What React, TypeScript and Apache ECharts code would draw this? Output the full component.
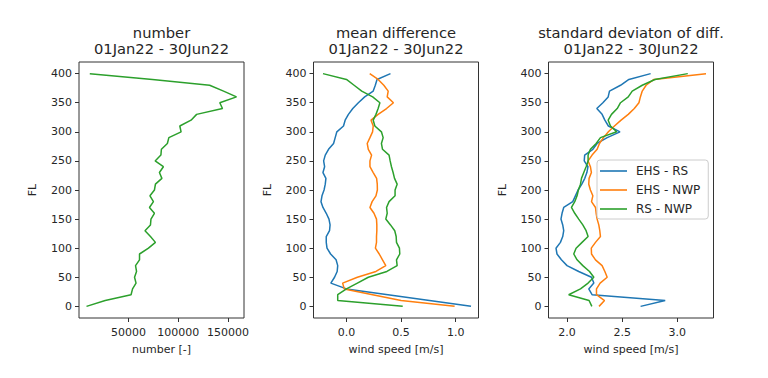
import React, { useEffect, useRef } from "react";
import * as echarts from "echarts";

const flLevels = [0, 10, 20, 30, 40, 50, 60, 70, 80, 90, 100, 110, 120, 130, 140, 150, 160, 170, 180, 190, 200, 210, 220, 230, 240, 250, 260, 270, 280, 290, 300, 310, 320, 330, 340, 350, 360, 370, 380, 390, 400];

const numberCount = [7700, 26500, 52500, 54000, 57500, 56000, 58000, 57000, 61000, 61000, 70000, 77000, 72000, 66500, 72000, 72500, 76000, 71000, 75000, 71500, 76000, 77000, 83500, 81000, 85000, 76700, 82500, 83000, 89000, 90500, 102800, 101500, 112800, 118400, 144400, 141700, 158500, 145500, 131500, 74000, 11000];

const meanEhsRs = [1.14, 0.76, 0.38, 0.0, -0.143, -0.109, -0.085, -0.08, -0.095, -0.145, -0.178, -0.185, -0.185, -0.155, -0.15, -0.16, -0.185, -0.215, -0.233, -0.224, -0.205, -0.194, -0.188, -0.215, -0.2, -0.209, -0.194, -0.164, -0.118, -0.103, -0.088, -0.027, -0.012, 0.018, 0.058, 0.109, 0.167, 0.245, 0.264, 0.28, 0.403];
const meanEhsNwp = [0.99, 0.5, 0.24, -0.02, -0.035, 0.1, 0.27, 0.36, 0.33, 0.3, 0.265, 0.275, 0.275, 0.278, 0.278, 0.275, 0.252, 0.215, 0.235, 0.27, 0.283, 0.282, 0.276, 0.245, 0.215, 0.215, 0.23, 0.2, 0.19, 0.215, 0.239, 0.245, 0.225, 0.29, 0.367, 0.43, 0.373, 0.382, 0.342, 0.29, 0.213];
const meanRsNwp = [0.515, -0.08, -0.08, 0.0, 0.1, 0.2, 0.37, 0.464, 0.458, 0.488, 0.485, 0.458, 0.455, 0.442, 0.403, 0.36, 0.373, 0.367, 0.39, 0.445, 0.445, 0.464, 0.44, 0.427, 0.412, 0.4, 0.39, 0.33, 0.32, 0.336, 0.32, 0.26, 0.245, 0.27, 0.29, 0.306, 0.24, 0.14, 0.07, 0.0, -0.215];

const stdEhsRs = [2.667, 2.89, 2.227, 2.197, 2.243, 2.222, 2.106, 2.0, 1.949, 1.909, 1.9, 1.94, 1.961, 1.97, 1.961, 1.945, 1.955, 1.97, 2.052, 2.076, 2.1, 2.134, 2.161, 2.18, 2.19, 2.156, 2.16, 2.234, 2.273, 2.364, 2.48, 2.375, 2.343, 2.318, 2.27, 2.325, 2.373, 2.385, 2.485, 2.561, 2.758];
const stdEhsNwp = [2.29, 2.34, 2.267, 2.267, 2.3, 2.364, 2.343, 2.318, 2.258, 2.222, 2.22, 2.258, 2.303, 2.297, 2.288, 2.273, 2.264, 2.258, 2.222, 2.234, 2.212, 2.197, 2.2, 2.221, 2.212, 2.191, 2.227, 2.273, 2.294, 2.33, 2.375, 2.43, 2.49, 2.555, 2.61, 2.652, 2.665, 2.682, 2.717, 2.788, 3.26];
const stdRsNwp = [2.225, 2.2, 2.015, 2.122, 2.191, 2.243, 2.204, 2.143, 2.091, 2.061, 2.082, 2.136, 2.191, 2.173, 2.143, 2.106, 2.07, 2.04, 2.07, 2.091, 2.103, 2.122, 2.131, 2.152, 2.173, 2.191, 2.191, 2.212, 2.264, 2.303, 2.45, 2.394, 2.373, 2.403, 2.455, 2.485, 2.555, 2.591, 2.682, 2.797, 3.095];

const seriesNames = ["EHS - RS", "EHS - NWP", "RS - NWP"];
const colors = ["#1f77b4", "#ff7f0e", "#2ca02c"];
const titles = ["number", "mean difference", "standard deviaton of diff."];
const period = "01Jan22 - 30Jun22";
const xNames = ["number [-]", "wind speed [m/s]", "wind speed [m/s]"];
const yTicks = [0, 50, 100, 150, 200, 250, 300, 350, 400];
const xTicks = [
  [50000, 100000, 150000],
  [0.0, 0.5, 1.0],
  [2.0, 2.5, 3.0],
];

const FONT = "DejaVu Sans";
const TXT = "#262626";

function extent(arrs: number[][]) {
  let mn = Infinity, mx = -Infinity;
  arrs.forEach((a) => a.forEach((v) => { if (v < mn) mn = v; if (v > mx) mx = v; }));
  const pad = (mx - mn) * 0.05;
  return [mn - pad, mx + pad];
}

export default function App() {
  const ref = useRef<HTMLDivElement>(null);
  useEffect(() => {
    if (!ref.current) return;
    const chart = echarts.init(ref.current, null, { renderer: "svg" });
    const panels = [[numberCount], [meanEhsRs, meanEhsNwp, meanRsNwp], [stdEhsRs, stdEhsNwp, stdRsNwp]];
    const lefts = [79, 313.5, 548.5];
    const W = 165;
    const grids = lefts.map((l) => ({
      left: l, top: 62, width: W, height: 256, show: true,
      borderColor: "#333", borderWidth: 1, backgroundColor: "transparent", containLabel: false,
    }));
    const xAxes = panels.map((p, i) => {
      const [mn, mx] = extent(p);
      return {
        type: "value", gridIndex: i, min: mn, max: mx,
        name: xNames[i], nameLocation: "middle", nameGap: 26,
        nameTextStyle: { fontFamily: FONT, fontSize: 11, color: TXT },
        axisLine: { show: false, onZero: false },
        splitLine: { show: false },
        axisTick: { show: true, length: 4, lineStyle: { color: "#333" }, customValues: xTicks[i] },
        axisLabel: {
          show: true, margin: 9, fontFamily: FONT, fontSize: 11, color: TXT,
          customValues: xTicks[i],
          formatter: (v: number) => (i === 0 ? String(Math.round(v)) : v.toFixed(1)),
        },
      };
    });
    const yAxes = panels.map((_, i) => ({
      type: "value", gridIndex: i, min: -20, max: 420,
      name: "FL", nameLocation: "middle", nameGap: 41, nameRotate: 90,
      nameTextStyle: { fontFamily: FONT, fontSize: 11, color: TXT },
      axisLine: { show: false, onZero: false },
      splitLine: { show: false },
      axisTick: { show: true, length: 4, lineStyle: { color: "#333" }, customValues: yTicks },
      axisLabel: { show: true, margin: 7, fontFamily: FONT, fontSize: 11, color: TXT, customValues: yTicks },
    }));
    const series: any[] = [];
    series.push({
      type: "line", name: "number", xAxisIndex: 0, yAxisIndex: 0, symbol: "none",
      data: flLevels.map((f, k) => [numberCount[k], f]),
      lineStyle: { color: colors[2], width: 1.5 }, itemStyle: { color: colors[2] },
    });
    [1, 2].forEach((pi) => {
      panels[pi].forEach((arr, si) => {
        series.push({
          type: "line", name: seriesNames[si], xAxisIndex: pi, yAxisIndex: pi, symbol: "none",
          data: flLevels.map((f, k) => [arr[k], f]),
          lineStyle: { color: colors[si], width: 1.5 }, itemStyle: { color: colors[si] },
        });
      });
    });
    chart.setOption({
      animation: false,
      backgroundColor: "#ffffff",
      title: titles.map((t, i) => ({
        text: t + "\n" + period,
        left: lefts[i] + W / 2,
        top: 24,
        textAlign: "center",
        padding: 0,
        textStyle: { fontFamily: FONT, fontSize: 14.7, fontWeight: "normal", color: TXT, lineHeight: 16.5 },
      })),
      legend: {
        data: seriesNames,
        orient: "vertical",
        left: 597,
        top: 160,
        padding: [5, 8, 4, 3],
        icon: "path://M0 0 H27 V1.6 H0 Z",
        symbolKeepAspect: true,
        itemWidth: 27,
        itemHeight: 14,
        itemGap: 7,
        backgroundColor: "rgba(255,255,255,0.8)",
        borderColor: "#cccccc",
        borderWidth: 1,
        borderRadius: 3,
        textStyle: { fontFamily: FONT, fontSize: 12, color: TXT, padding: [0, 0, 0, 4] },
      },
      grid: grids,
      xAxis: xAxes,
      yAxis: yAxes,
      series,
    });
    return () => chart.dispose();
  }, []);
  return (
    <div
      ref={ref}
      style={{ position: "fixed", left: 0, top: 0, width: 768, height: 378, background: "#fff" }}
    />
  );
}
